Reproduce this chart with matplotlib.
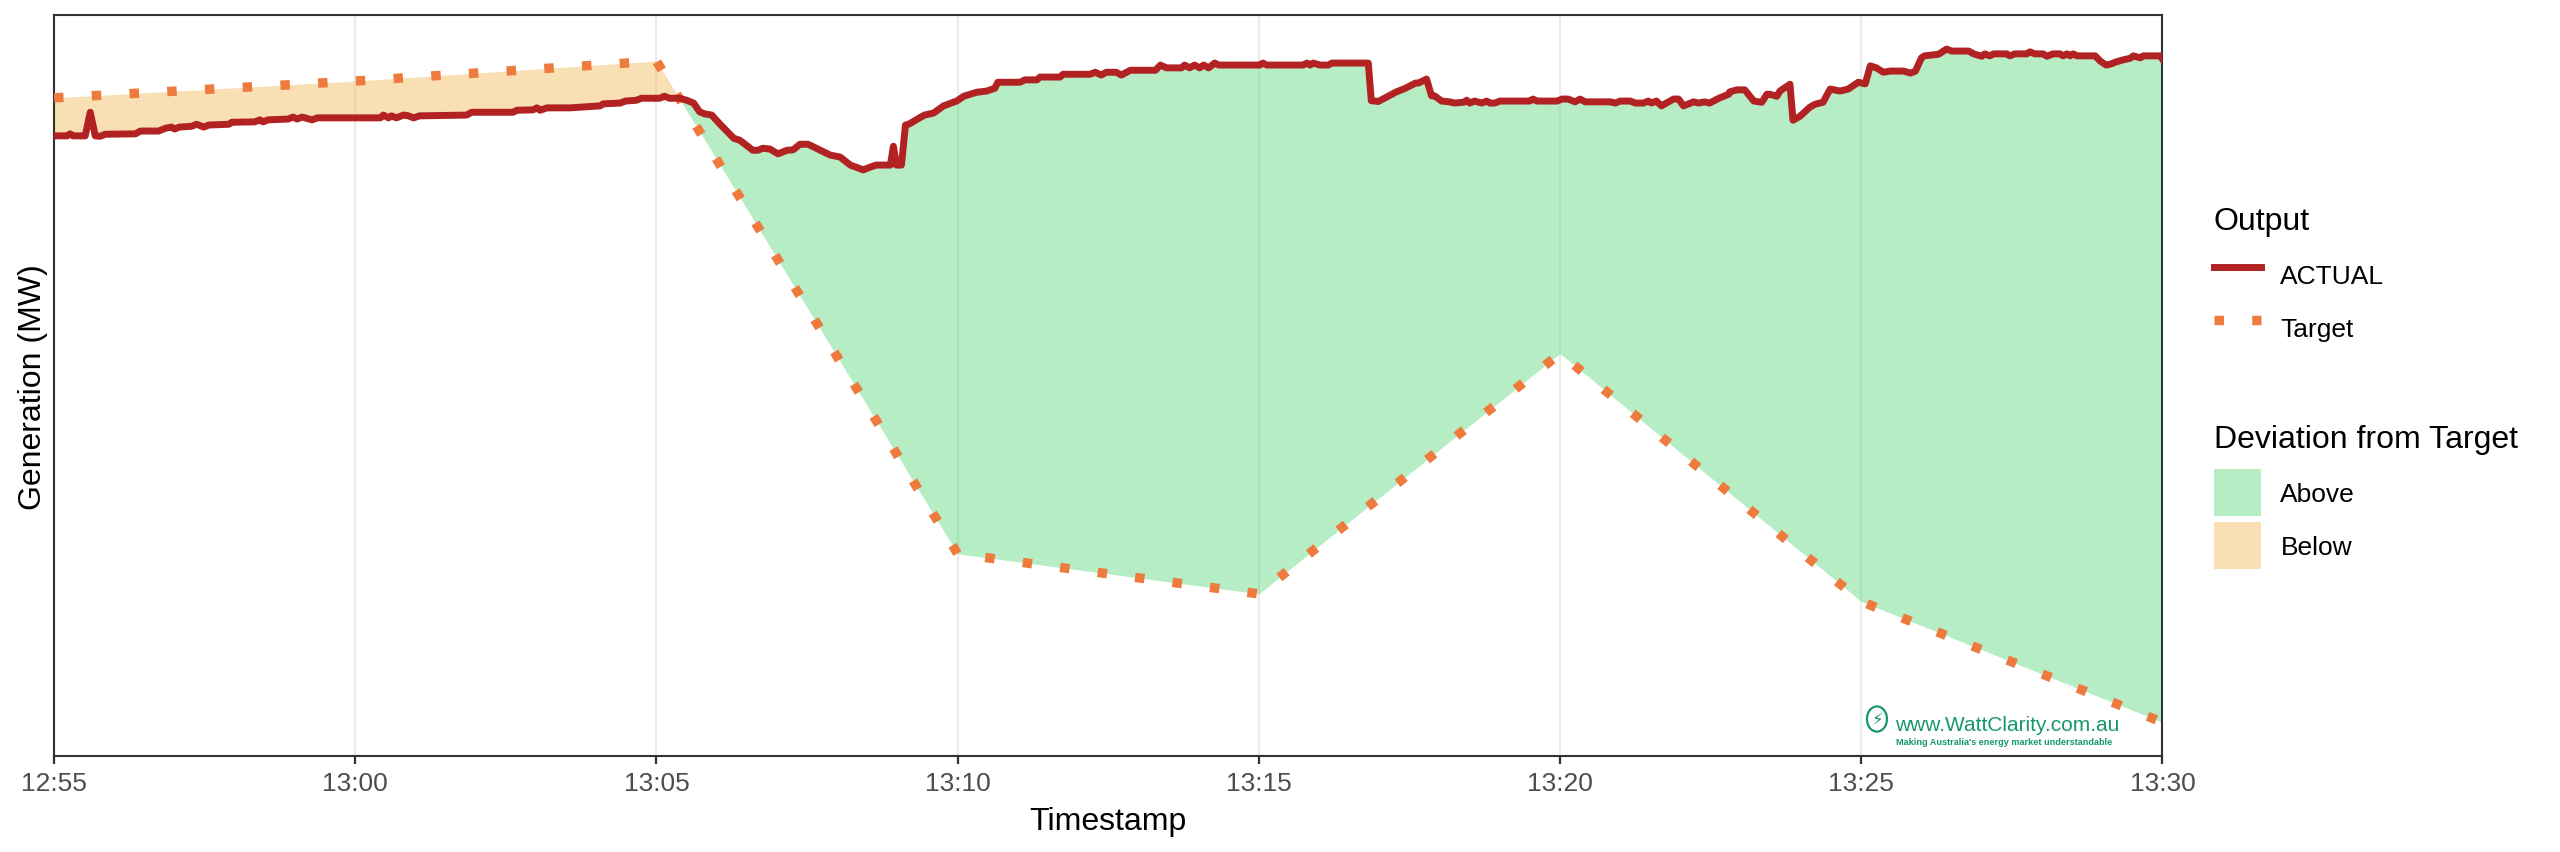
"""
Actual generation vs dispatch target, 12:55 - 13:30
"""
from datetime import datetime
import numpy as np
import matplotlib
matplotlib.use('Agg')
import matplotlib.pyplot as plt
import matplotlib.dates as mdates
from matplotlib.lines import Line2D
from matplotlib.patches import Patch, Ellipse

plt.rcParams['font.family'] = ['Liberation Sans', 'DejaVu Sans']

START = datetime(2024, 1, 1, 12, 55)

# Dispatch target (seconds after 12:55, MW) - linear ramps between intervals
target_sec = [0, 300, 600, 900, 1200, 1500, 1800, 2100]
target_mw = [175.3, 179.5, 184.5, 61.3, 51.3, 111.4, 49.4, 19.2]

# Actual output (seconds after 12:55, MW)
actual_sec = [
    0, 13, 16, 19, 31, 36, 41, 46, 51, 81, 86, 104, 111, 117, 120, 125, 137, 142, 149, 154,
    174, 177, 200, 205, 208, 213, 233, 238, 242, 247, 257, 262, 325, 328, 333, 336, 341, 348, 353, 358,
    364, 411, 416, 457, 461, 477, 481, 484, 491, 514,
    544, 547, 564, 569, 580, 585, 603, 608, 613, 623, 630, 637, 643, 648, 655, 663, 677, 683, 696, 701,
    706, 713, 721, 730, 736, 743, 751, 773, 783, 793, 806, 813, 819, 833, 836, 839, 844, 848, 852, 862,
    867, 876, 886, 899, 906, 919, 929, 937, 940, 962, 967, 979, 982, 1002, 1005, 1032,
    1037, 1043, 1048, 1058, 1063, 1072, 1097, 1102, 1108, 1123, 1126, 1131, 1136, 1141, 1145, 1150, 1156, 1160, 1201, 1204,
    1208, 1244, 1248, 1251, 1254, 1261, 1269, 1273, 1309, 1312, 1319, 1337, 1346, 1356, 1359, 1367, 1372, 1375, 1382, 1390,
    1395, 1404, 1407, 1410, 1415, 1422, 1427, 1430, 1435, 1440, 1470, 1473, 1477, 1497, 1502, 1508, 1515, 1520, 1525, 1550,
    1555, 1560, 1570, 1575, 1583, 1588, 1591, 1596, 1601, 1613, 1618, 1623, 1633, 1638, 1644, 1649, 1659, 1668, 1669, 1676,
    1684, 1693, 1701, 1706, 1709, 1716, 1719, 1729, 1732, 1739, 1749, 1754, 1762, 1769, 1779, 1787, 1797, 1804, 1809, 1815,
    1822, 1829, 1842, 1849, 1854, 1860, 1863, 1877, 1885, 1890, 1907, 1912, 1920, 1923, 1928, 1932, 1945, 1948, 1953, 1965,
    1968, 1973, 1981, 1985, 1991, 1998, 2001, 2005, 2008, 2011, 2015, 2033, 2038, 2044, 2049, 2054, 2061, 2068,
    2071, 2078, 2081, 2098, 2100,
]
actual_mw = [
    165.8, 165.8, 166.3, 165.8, 165.8, 171.7, 165.8, 165.7, 166.2, 166.3, 167.0, 167.0, 167.7, 168.0, 167.5, 168.0, 168.2, 168.7, 168.0, 168.5,
    168.7, 169.2, 169.3, 169.8, 169.3, 169.8, 170.0, 170.5, 170.0, 170.5, 169.8, 170.3, 170.3, 171.0, 170.3, 170.8, 170.3, 171.0, 170.8, 170.3,
    170.8, 171.0, 171.7, 171.7, 172.2, 172.3, 172.8, 172.2, 172.8, 172.8,
    173.3, 173.8, 174.0, 174.5, 174.7, 175.2, 175.2, 175.7, 175.2, 175.2, 174.7, 174.0, 171.8, 171.3, 171.0, 168.8, 165.2, 164.7, 162.2, 162.2,
    162.7, 162.5, 161.3, 162.2, 162.3, 163.7, 163.7, 161.0, 160.5, 158.5, 157.3, 158.0, 158.5, 158.5, 163.2, 158.5, 158.5, 168.5, 168.8, 170.3,
    171.0, 171.5, 173.3, 174.5, 175.7, 176.7, 177.0, 177.7, 179.2, 179.2, 179.8, 179.8, 180.5, 180.5, 181.2, 181.2,
    181.7, 181.0, 181.7, 181.7, 181.0, 182.2, 182.2, 183.5, 182.8, 182.8, 183.5, 182.8, 183.5, 182.8, 183.5, 182.8, 184.0, 183.5, 183.5, 184.0,
    183.5, 183.5, 184.0, 183.5, 184.0, 183.5, 183.5, 184.0, 184.0, 174.6, 174.4, 176.8, 177.7, 179.0, 179.0, 180.0, 175.8, 175.8, 174.5, 174.3,
    174.0, 174.2, 174.7, 174.0, 174.5, 174.0, 174.5, 174.0, 174.0, 174.5, 174.5, 175.0, 174.5, 174.5, 175.0, 175.0, 174.3, 175.0, 174.3, 174.3,
    174.0, 174.5, 174.5, 174.0, 174.0, 174.5, 174.0, 174.5, 173.3, 175.0, 175.0, 173.3, 174.3, 174.0, 174.3, 174.0, 175.3, 176.2, 176.8, 177.3,
    177.3, 174.5, 174.2, 176.2, 176.2, 175.7, 177.0, 178.7, 169.7, 170.7, 173.0, 173.7, 174.2, 177.5, 177.0, 177.5, 179.2, 178.8, 183.3, 182.8,
    181.7, 182.0, 182.0, 181.5, 182.0, 185.3, 185.8, 186.2, 187.5, 187.0, 187.0, 186.3, 185.7, 186.3, 185.8, 186.3, 186.3, 185.8, 186.3, 186.3,
    186.8, 186.3, 186.3, 185.7, 186.3, 186.3, 185.8, 186.3, 185.8, 186.3, 185.8, 185.8, 184.5, 183.5, 183.8, 184.3, 184.8, 185.2,
    185.8, 185.3, 185.8, 185.8, 185.0,
]

COL_ACTUAL = '#B22222'
COL_TARGET = '#EF7A3D'
COL_ABOVE = '#4BD46E'
COL_BELOW = '#EEAF44'
FILL_ALPHA = 0.4


def to_num(secs):
    return mdates.date2num(START) + np.asarray(secs, dtype=float) / 86400.0


# common grid so both series keep their corners in the ribbon
grid_sec = np.union1d(actual_sec, target_sec)
act_on_grid = np.interp(grid_sec, actual_sec, actual_mw)
tgt_on_grid = np.interp(grid_sec, target_sec, target_mw)
gx = to_num(grid_sec)

fig = plt.figure(figsize=(25.6, 8.53), dpi=100)
ax = fig.add_axes([0.02113, 0.1125, 0.82357, 0.8682])

ax.fill_between(gx, act_on_grid, tgt_on_grid, where=act_on_grid >= tgt_on_grid,
                interpolate=True, color=COL_ABOVE, alpha=FILL_ALPHA, linewidth=0, zorder=2)
ax.fill_between(gx, act_on_grid, tgt_on_grid, where=act_on_grid < tgt_on_grid,
                interpolate=True, color=COL_BELOW, alpha=FILL_ALPHA, linewidth=0, zorder=2)

ax.plot(to_num(target_sec), target_mw, color=COL_TARGET, linewidth=6.8,
        linestyle=(0, (1, 3)), dash_capstyle='butt', zorder=3)
ax.plot(to_num(actual_sec), actual_mw, color=COL_ACTUAL, linewidth=5,
        solid_joinstyle='round', zorder=4)

ax.set_xlim(to_num([0])[0], to_num([2100])[0])
ax.set_ylim(10.75, 195.9)

ax.xaxis.set_major_locator(mdates.MinuteLocator(byminute=range(0, 60, 5)))
ax.xaxis.set_major_formatter(mdates.DateFormatter('%H:%M'))
ax.set_yticks([])
ax.grid(axis='x', color='#EBEBEB', linewidth=1.6, zorder=0)
ax.set_axisbelow(True)

ax.tick_params(axis='x', length=6, width=1.6, color='#333333', labelsize=19,
               labelcolor='#4D4D4D', pad=5)
for sp in ax.spines.values():
    sp.set_color('#333333')
    sp.set_linewidth(1.5)

ax.set_xlabel('Timestamp', fontsize=23)
ax.set_ylabel('Generation (MW)', fontsize=23)
ax.xaxis.set_label_coords(0.5, -0.068)
ax.yaxis.set_label_coords(-0.003, 0.5)

# WattClarity watermark
wm = '#17986B'
ax.add_patch(Ellipse((0.8646, 0.05), 0.0095, 0.034, transform=ax.transAxes,
                     fill=False, edgecolor=wm, linewidth=1.6, zorder=5))
ax.text(0.8646, 0.05, '\u26A1', transform=ax.transAxes, ha='center', va='center',
        fontsize=12, color=wm, family=['DejaVu Sans'], zorder=5)
ax.text(0.8731, 0.0432, 'www.WattClarity.com.au', transform=ax.transAxes,
        ha='left', va='center', fontsize=15, color=wm, zorder=5)
ax.text(0.8735, 0.0195, "Making Australia's energy market understandable", transform=ax.transAxes,
        ha='left', va='center', fontsize=6.6, color=wm, fontweight='bold', zorder=5)

# legends
leg_kw = dict(frameon=False, fontsize=19, title_fontsize=23, alignment='left',
              handlelength=1.8, handleheight=2.36, labelspacing=0.23, handletextpad=0.72,
              borderpad=0, borderaxespad=0, loc='upper left')
out_handles = [Line2D([], [], color=COL_ACTUAL, linewidth=5),
               Line2D([], [], color=COL_TARGET, linewidth=6.8, linestyle=(0, (1, 3)))]
leg1 = fig.legend(out_handles, ['ACTUAL', 'Target'], title='Output',
                  bbox_to_anchor=(0.8648, 0.757), **leg_kw)
dev_handles = [Patch(facecolor=COL_ABOVE, alpha=FILL_ALPHA, linewidth=0),
               Patch(facecolor=COL_BELOW, alpha=FILL_ALPHA, linewidth=0)]
leg2 = fig.legend(dev_handles, ['Above', 'Below'], title='Deviation from Target',
                  bbox_to_anchor=(0.8648, 0.502), **leg_kw)
# extra room between legend titles and their keys
for leg in (leg1, leg2):
    leg._legend_box.sep = 11

fig.savefig('out.png', dpi=100)
plt.close(fig)
